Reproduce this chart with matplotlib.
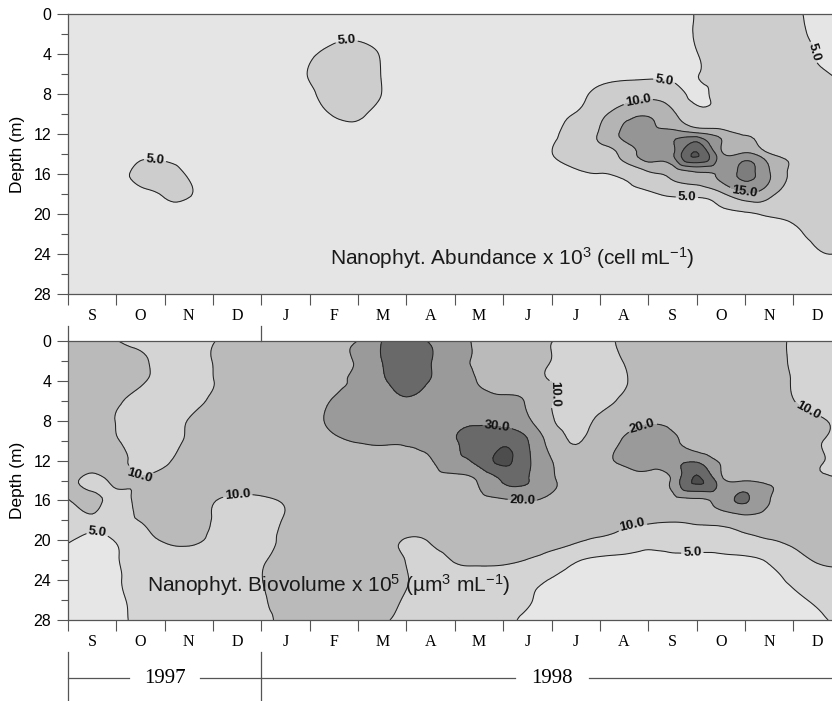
import matplotlib
matplotlib.use("Agg")
import numpy as np
import matplotlib.pyplot as plt
import matplotlib.tri as mtri

plt.rcParams['font.family'] = 'Liberation Sans'
plt.rcParams['mathtext.default'] = 'regular'

# month letters, Sep 1997 .. Dec 1998
months = ['S', 'O', 'N', 'D', 'J', 'F', 'M', 'A', 'M', 'J', 'J', 'A', 'S', 'O', 'N', 'D']

# grid: months since 1 Sep 1997 (every half month), depth every 2 m
month_pos = [0, 0.5, 1, 1.5, 2, 2.5, 3, 3.5, 4, 4.5, 5, 5.5, 6, 6.5, 7, 7.5, 8, 8.5,
             9, 9.5, 10, 10.5, 11, 11.5, 12, 12.5, 13, 13.5, 14, 14.5, 15, 15.5, 16]
depths = [0, 2, 4, 6, 8, 10, 12, 14, 16, 18, 20, 22, 24, 26, 28]

# nanophytoplankton abundance x 10^3 cell/mL (one row per depth)
abundance = [
    [3, 3, 3, 3, 3, 3, 3, 3, 3, 3, 3, 3, 3, 3, 3, 3, 3, 3, 3, 3, 3, 3, 3, 3, 3, 3.5, 5.2, 6.5, 7, 6.8, 5.6, 4.2, 3.5],
    [3, 3, 3, 3, 3, 3, 3, 3, 3, 3, 3, 4, 4, 3.2, 3, 3, 3, 3, 3, 3, 3, 3, 3, 3, 3, 3.5, 5.3, 6.5, 7, 7, 5.8, 4.5, 3.8],
    [3, 3, 3, 3, 3, 3, 3, 3, 3, 3, 4.5, 6, 6.5, 4.6, 3.2, 3, 3, 3, 3, 3, 3, 3, 3.3, 3.5, 3.5, 3.8, 4.9, 6.5, 7, 7.2, 6.3, 4.8, 4.2],
    [3, 3, 3, 3, 3, 3, 3, 3, 3, 3.5, 5.2, 7, 7.5, 4.8, 3.3, 3, 3, 3, 3, 3, 3, 3.3, 3.8, 4, 4, 4, 4.8, 6.5, 7.2, 7.5, 6.8, 5.5, 4.6],
    [3, 3, 3, 3, 3, 3, 3, 3, 3, 3.3, 4.5, 6.5, 7, 4.9, 3.2, 3, 3, 3, 3, 3.2, 3.5, 4.3, 5.8, 7.5, 8.5, 7, 4.2, 6.5, 7.5, 8, 7.5, 6.5, 5.5],
    [3, 3, 3, 3, 3, 3, 3, 3, 3, 3, 3.8, 5.3, 5.8, 3.5, 3, 3, 3, 3, 3, 3.2, 4, 5.2, 8.5, 13, 14.5, 11, 6, 6.5, 7, 7.5, 7, 6.5, 5.8],
    [3, 3, 3, 3, 3.5, 3, 3, 3, 3, 3, 3, 3.5, 3.5, 3, 3, 3, 3, 3, 3, 3.5, 4.3, 7, 10.5, 16, 17, 17.5, 16.5, 13, 9.5, 8, 7.5, 7, 6.5],
    [3, 3, 3.3, 4, 4, 3.3, 3, 3, 3, 3, 3, 3, 3, 3, 3, 3, 3, 3, 3, 3.5, 4.9, 7, 8.5, 11.5, 16.5, 19, 30.5, 16.5, 16, 10.5, 8, 7.5, 7],
    [3, 3, 3.5, 6.5, 7, 4.5, 3, 3, 3, 3, 3, 3, 3, 3, 3, 3, 3, 3, 3, 3, 3, 4.2, 4.9, 6, 9, 11, 14, 16, 21, 15.5, 9, 8, 7.5],
    [3, 3, 3, 3.5, 5.5, 5.3, 3, 3, 3, 3, 3, 3, 3, 3, 3, 3, 3, 3, 3, 3, 3, 3, 3.5, 4, 4.4, 5.8, 6.2, 9, 14, 11.5, 8, 7.5, 7],
    [3, 3, 3, 3, 3.5, 3, 3, 3, 3, 3, 3, 3, 3, 3, 3, 3, 3, 3, 3, 3, 3, 3, 3, 3, 3, 3, 3, 4.2, 4.5, 5.5, 6, 6.5, 6.5],
    [3, 3, 3, 3, 3, 3, 3, 3, 3, 3, 3, 3, 3, 3, 3, 3, 3, 3, 3, 3, 3, 3, 3, 3, 3, 3, 3, 3, 3.3, 3.5, 4.5, 5.5, 5.8],
    [3, 3, 3, 3, 3, 3, 3, 3, 3, 3, 3, 3, 3, 3, 3, 3, 3, 3, 3, 3, 3, 3, 3, 3, 3, 3, 3, 3, 3, 3, 3.5, 4.8, 4.9],
    [3, 3, 3, 3, 3, 3, 3, 3, 3, 3, 3, 3, 3, 3, 3, 3, 3, 3, 3, 3, 3, 3, 3, 3, 3, 3, 3, 3, 3, 3, 3, 4, 4],
    [3, 3, 3, 3, 3, 3, 3, 3, 3, 3, 3, 3, 3, 3, 3, 3, 3, 3, 3, 3, 3, 3, 3, 3, 3, 3, 3, 3, 3, 3, 3, 3, 3],
]

# nanophytoplankton biovolume x 10^5 um3/mL (one row per depth)
biovolume = [
    [13, 12, 10.2, 8, 7.5, 8, 9.8, 12, 14, 15, 16, 18, 20.2, 30.3, 35, 29, 24, 18, 15, 12, 10.1, 8, 8.5, 11, 13, 14, 14, 13.5, 12.5, 11, 9.6, 8, 7.5],
    [13.5, 13, 12.5, 11, 8, 8, 10.1, 12.5, 14.5, 15.5, 16.5, 18, 21, 30.2, 38, 30.5, 23, 18.5, 15.5, 12.5, 9.9, 7.5, 8, 10.2, 13, 14, 14.5, 14, 13, 11.5, 9.5, 8, 7.5],
    [14, 13.5, 13, 11, 7.5, 8, 9.9, 13, 15, 16, 17, 18.5, 21.5, 28, 36, 29.5, 24, 19.5, 16, 13, 9.8, 7.5, 7.5, 9.5, 12.5, 14, 15, 14.5, 13.5, 11.5, 9.8, 8, 7.5],
    [14.5, 14, 11, 8, 7, 8, 11, 14, 16, 17, 18, 20.5, 24, 27, 28.5, 27, 25, 23, 21.5, 19, 10.3, 8, 8.5, 11, 13.5, 15, 15.5, 15, 14, 12.5, 10.1, 8.5, 8],
    [15, 13.5, 9.8, 7.5, 7, 10.3, 13, 15, 16.5, 17.5, 18.5, 21.5, 25, 26.5, 26, 26.5, 27.5, 28.5, 26, 21.5, 11, 8, 11, 15, 18.5, 18, 17, 16, 15, 13.5, 12, 10.5, 9.3],
    [15, 14, 10.5, 7.5, 7.5, 11, 14, 15.5, 17, 17.5, 18, 19, 20.5, 21, 21, 24, 29.5, 33, 38, 30.5, 16, 9.5, 14, 21, 25, 21, 18.5, 17, 16, 14.5, 12.5, 10.4, 9],
    [15, 14, 12, 8, 9, 12.5, 15, 16, 17, 17.5, 17.5, 17.5, 17.5, 18, 18.5, 19.5, 27.5, 33, 42, 32, 20.3, 13, 17, 22, 25.5, 27, 28, 18.5, 16, 15, 13, 10.5, 9.2],
    [13, 8.5, 11, 10.5, 12, 13.5, 15, 15.5, 16, 16.5, 16.5, 16.5, 16.5, 17, 17, 17.5, 17.5, 21, 31, 30.5, 22, 14, 15, 17, 18, 22, 41.5, 24, 19.5, 17, 15, 12.5, 10.5],
    [9.5, 11.5, 8.5, 12, 14, 13.5, 10.5, 8, 8.5, 11, 14, 15.5, 16, 16, 16, 16.5, 17, 18, 19, 20.3, 17.5, 14, 14, 15, 16, 17.5, 18.5, 24, 31, 20.5, 16, 14.5, 13],
    [8, 8, 8.5, 10.3, 13, 12, 9.8, 7.5, 8, 10.5, 13.5, 15, 15, 15, 15, 15, 14.5, 14, 14, 13.5, 13, 12, 11.5, 11, 10.8, 10.5, 11, 12.5, 15, 14, 13.5, 13, 12],
    [5.5, 4, 5.3, 8, 10.5, 11, 9, 7.5, 8.5, 11, 13, 14, 14, 13, 9.5, 10.5, 12, 12.5, 12.5, 12, 11.5, 10.5, 9.5, 8.5, 7, 7.5, 7.5, 8, 9, 9.8, 11, 11.5, 11],
    [3.5, 3.5, 4.8, 6.5, 7.5, 8, 8, 8, 9.5, 11.5, 13, 13.5, 13.5, 12.5, 9.8, 8.5, 10.3, 11, 11, 9.8, 8, 5.5, 4, 3.5, 3, 3.5, 3.5, 3.5, 4, 5.5, 8, 10.5, 11],
    [3, 3, 4.5, 6.5, 7.5, 8, 8, 8.5, 9.9, 12, 13, 13.5, 13, 12, 10.2, 8.5, 8, 7.5, 7, 6, 4.8, 3.5, 3, 3, 3, 3, 3, 3, 3.5, 4.3, 5.5, 7, 8],
    [3, 3, 4.3, 6, 7, 7.5, 8, 8.5, 9.5, 11.5, 12.5, 13, 12.5, 11.5, 9.5, 8, 7.5, 7, 6.5, 5.3, 4, 3, 3, 3, 3, 3, 3, 3, 3, 3.2, 4.2, 5.5, 6.5],
    [3, 3, 4.2, 5.8, 7, 7.5, 8, 8.5, 9, 11, 12, 12.5, 12, 10.5, 9, 8, 7.5, 7, 6, 4.3, 3.5, 3, 3, 3, 3, 3, 3, 3, 3, 3, 3, 4.5, 5.5],
]

abund_levels = [5, 10, 15, 20, 25, 30]
biovol_levels = [5, 10, 20, 30, 40]

abund_colors = ['#e5e5e5', '#cdcdcd', '#b4b4b4', '#959595', '#7d7d7d', '#666666', '#555555']
biovol_colors = ['#e6e6e6', '#d4d4d4', '#bababa', '#9a9a9a', '#696969', '#4d4d4d']

fig = plt.figure(figsize=(8.32, 7.01), dpi=100)
ax1 = fig.add_axes([68 / 832, 1 - 294 / 701, 1 - 68 / 832, 280 / 701])
ax2 = fig.add_axes([68 / 832, 1 - 620 / 701, 1 - 68 / 832, 279 / 701])

X, Y = np.meshgrid(month_pos, depths)
triang = mtri.Triangulation(X.ravel(), Y.ravel())
refiner = mtri.UniformTriRefiner(triang)


def draw_panel(ax, Z, levels, colors):
    z = np.array(Z, dtype=float).ravel()
    tri_f, z_f = refiner.refine_field(z, subdiv=3)
    ax.tricontourf(tri_f, z_f, levels=[-100] + levels + [100], colors=colors)
    sets = {}
    for lv in levels:
        sets[lv] = ax.tricontour(tri_f, z_f, levels=[lv], colors='#222222', linewidths=0.75)
    ax.set_xlim(0, 15.8)
    ax.set_ylim(28, 0)
    ax.set_yticks([0, 4, 8, 12, 16, 20, 24, 28])
    ax.set_yticks([2, 6, 10, 14, 18, 22, 26], minor=True)
    ax.set_xticks(range(16))
    ax.set_xticklabels([])
    ax.set_xticks([m + 0.5 for m in range(16)], minor=True)
    ax.set_xticklabels(months, minor=True, family='Liberation Serif', fontsize=11.5)
    ax.tick_params(axis='y', which='major', length=8, width=0.8, color='#555555',
                   labelsize=11.5, pad=4)
    ax.tick_params(axis='y', which='minor', length=5, width=0.8, color='#555555')
    ax.tick_params(axis='x', which='major', length=8, width=0.8, color='#555555')
    ax.tick_params(axis='x', which='minor', length=0, pad=10)
    ax.set_ylabel('Depth (m)', fontsize=12.5)
    ax.yaxis.set_label_coords(-0.056, 0.5)
    for s in ['left', 'top', 'bottom']:
        ax.spines[s].set_color('#555555')
        ax.spines[s].set_linewidth(0.9)
    ax.spines['right'].set_visible(False)
    return sets


def add_labels(cs, places):
    txts = cs.clabel(manual=places, fmt='%.1f', fontsize=9.5, colors='#111111',
                     inline=True, inline_spacing=2)
    for t in txts:
        t.set_fontweight('bold')


cs1 = draw_panel(ax1, abundance, abund_levels, abund_colors)
add_labels(cs1[5], [(5.76, 3.0), (1.8, 14.6), (12.33, 6.7), (12.8, 18.4), (15.33, 3.9)])
add_labels(cs1[10], [(11.8, 8.9)])
add_labels(cs1[15], [(14.0, 17.5)])
ax1.text(5.41, 24.4, 'Nanophyt. Abundance x 10$^{3}$ (cell mL$^{-1}$)', fontsize=15,
         ha='left', va='center', color='#1a1a1a')

cs2 = draw_panel(ax2, biovolume, biovol_levels, biovol_colors)
add_labels(cs2[5], [(0.6, 19.7), (12.9, 20.4)])
add_labels(cs2[10], [(1.49, 13.3), (3.5, 15.0), (10.0, 5.2), (11.67, 18.5), (15.3, 6.9)])
add_labels(cs2[20], [(9.4, 16.0), (11.9, 8.9)])
add_labels(cs2[30], [(8.88, 8.6)])
ax2.text(1.63, 24.5, 'Nanophyt. Biovolume x 10$^{5}$ (µm$^{3}$ mL$^{-1}$)', fontsize=15,
         ha='left', va='center', color='#1a1a1a')

# year bar under the lower panel
tr = ax2.get_xaxis_transform()
line_kw = dict(color='#555555', lw=0.9, clip_on=False, transform=tr)
for x in [0, 4]:
    ax2.plot([x, x], [-0.114, -0.30], **line_kw)
    ax2.plot([x, x], [1.0, 1.055], **line_kw)
ax2.plot([0, 1.27], [-0.208, -0.208], **line_kw)
ax2.plot([2.73, 4], [-0.208, -0.208], **line_kw)
ax2.plot([4, 9.24], [-0.208, -0.208], **line_kw)
ax2.plot([10.78, 15.8], [-0.208, -0.208], **line_kw)
ax2.text(2, -0.208, '1997', transform=tr, ha='center', va='center',
         family='Liberation Serif', fontsize=15)
ax2.text(10.0, -0.208, '1998', transform=tr, ha='center', va='center',
         family='Liberation Serif', fontsize=15)

fig.savefig('out.png', dpi=100)
